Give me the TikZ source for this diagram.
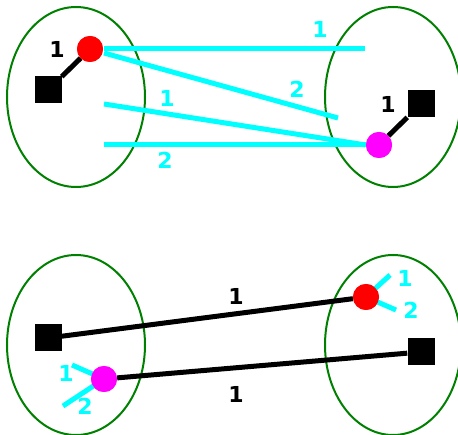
\documentclass[tikz,border=0pt]{standalone}
\usepackage{fontspec}
\setmainfont{DejaVu Sans}
\definecolor{cyx}{RGB}{0,255,255}
\definecolor{mgx}{RGB}{255,0,255}
\definecolor{rdx}{RGB}{255,0,0}
\definecolor{gnx}{RGB}{0,128,0}
\begin{document}
\begin{tikzpicture}[x=1pt,y=-1pt,
  grp/.style={draw=gnx,line width=2pt},
  sq/.style={fill=black,minimum size=27pt,inner sep=0pt,draw=none},
  rdot/.style={circle,fill=rdx,minimum size=26pt,inner sep=0pt},
  mdot/.style={circle,fill=mgx,minimum size=26pt,inner sep=0pt},
  cy/.style={draw=cyx,line width=5pt},
  bk/.style={draw=black,line width=5pt},
  lab/.style={font=\fontsize{22}{26}\selectfont\bfseries,inner sep=0pt},
  clab/.style={lab,text=cyx}]
\useasboundingbox (0,0) rectangle (458,435);
% ellipses
\draw[grp] (76,97) ellipse [x radius=69,y radius=90];
\draw[grp] (393,97) ellipse [x radius=68,y radius=90];
\draw[grp] (76,345) ellipse [x radius=69,y radius=90];
\draw[grp] (393,345) ellipse [x radius=68,y radius=90];
% top
\node[sq] (s1) at (48,90) {};
\node[rdot] (r1) at (90,49) {};
\node[sq] (s2) at (421,104) {};
\node[mdot] (m1) at (379,145) {};
\coordinate (a1) at (104,49);
\coordinate (a2) at (365,49);
\coordinate (b1) at (104,53);
\coordinate (b2) at (338,118);
\coordinate (c1) at (104,104);
\coordinate (d1) at (104,145);
\path[bk] (s1) -- (r1);
\path[bk] (m1) -- (s2);
\path[cy] (a1) -- (a2);
\path[cy] (b1) -- (b2);
\path[cy] (c1) -- (m1.west);
\path[cy] (d1) -- (m1.west);
\node[rdot] at (r1) {};
\node[mdot] at (m1) {};
\node[lab] (l1) at (57,49) {1};
\node[lab] (l2) at (388,104) {1};
\node[clab] (l3) at (320,29) {1};
\node[clab] (l4) at (297,89) {2};
\node[clab] (l5) at (167,98) {1};
\node[clab] (l6) at (165,160) {2};
% bottom
\node[sq] (s3) at (48,338) {};
\node[mdot] (m2) at (104,379) {};
\node[rdot] (r2) at (366,297) {};
\node[sq] (s4) at (421,352) {};
\coordinate (e1) at (72,365);
\coordinate (e2) at (63,406);
\coordinate (f1) at (390,275);
\coordinate (f2) at (396,310);
\path[cy] (m2.center) -- (e1);
\path[cy] (m2.center) -- (e2);
\path[cy] (r2.center) -- (f1);
\path[cy] (r2.center) -- (f2);
\path[bk] (s3) -- (r2);
\path[bk] (m2) -- (s4);
\node[mdot] at (m2) {};
\node[rdot] at (r2) {};
\node[lab] (l7) at (236,296) {1};
\node[lab] (l8) at (236,394) {1};
\node[clab] (l9) at (66,373) {1};
\node[clab] (l10) at (85,406) {2};
\node[clab] (l11) at (405,278) {1};
\node[clab] (l12) at (411,310) {2};
\end{tikzpicture}
\end{document}
